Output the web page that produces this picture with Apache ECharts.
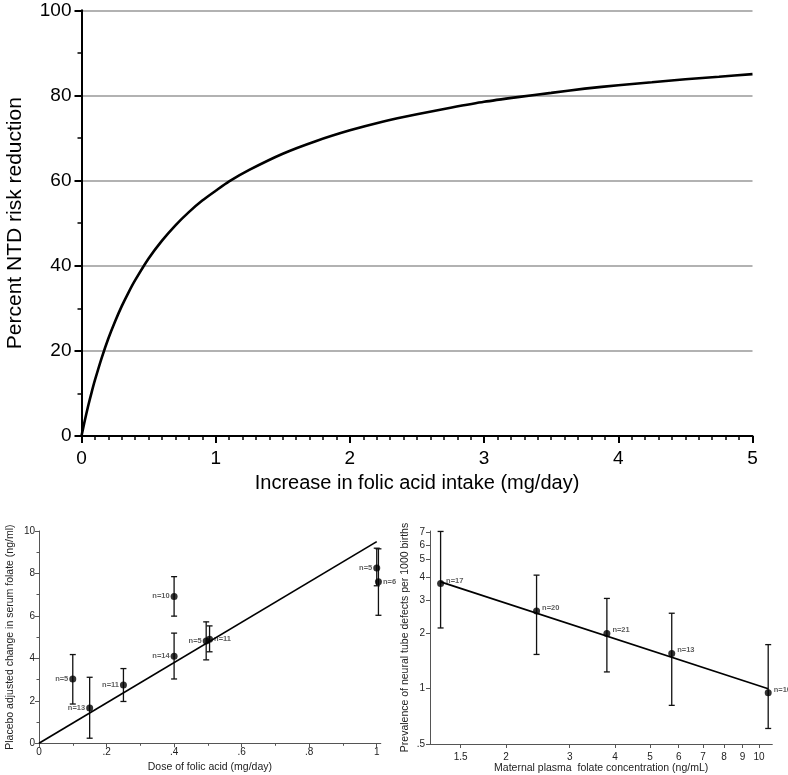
<!DOCTYPE html>
<html>
<head>
<meta charset="utf-8">
<script src="https://cdn.jsdelivr.net/npm/echarts@6/dist/echarts.min.js"></script>
<style>
  html, body { margin: 0; padding: 0; background: #fff; }
  #chart { width: 788px; height: 775px; }
</style>
</head>
<body>
<div id="chart"></div>
<script>
// top panel: risk reduction curve
var intakeX = [0, 0.01, 0.025, 0.05, 0.075, 0.1, 0.15, 0.2, 0.25, 0.3, 0.35, 0.4, 0.5, 0.6, 0.7, 0.8, 0.9, 1.0,
  1.1, 1.25, 1.5, 1.75, 2.0, 2.25, 2.5, 2.75, 3.0, 3.25, 3.5, 3.75, 4.0, 4.25, 4.5, 4.75, 5.0];
var riskReduction = [0, 1.5, 3.7, 7.1, 10.2, 13.1, 18.3, 22.9, 26.9, 30.5, 33.7, 36.6, 41.7, 45.9, 49.5, 52.6, 55.3, 57.6,
  59.8, 62.5, 66.3, 69.3, 71.8, 73.9, 75.6, 77.1, 78.5, 79.6, 80.6, 81.6, 82.4, 83.1, 83.8, 84.4, 85.0];

// bottom left: dose vs serum folate change
var doseX = [0.1, 0.15, 0.25, 0.4, 0.4, 0.495, 0.505, 1.0, 1.005];
var folateChange = [3.03, 1.66, 2.75, 4.1, 6.92, 4.82, 4.9, 8.26, 7.61];
var folateLow = [1.85, 0.24, 1.97, 3.03, 5.99, 3.93, 4.31, 7.42, 6.03];
var folateHigh = [4.18, 3.11, 3.52, 5.19, 7.85, 5.72, 5.53, 9.19, 9.16];
var doseN = ['n=5', 'n=13', 'n=11', 'n=14', 'n=10', 'n=5', 'n=11', 'n=5', 'n=6'];
var doseLabelSide = ['left', 'left', 'left', 'left', 'left', 'left', 'right', 'left', 'right'];
var doseFitX = [0, 1];
var doseFitY = [0, 9.5];
var doseTicks = [0, 0.2, 0.4, 0.6, 0.8, 1];

// bottom right: plasma folate vs NTD prevalence (log-log)
var plasmaX = [1.32, 2.43, 3.80, 5.74, 10.6];
var prevalence = [3.71, 2.63, 1.99, 1.55, 0.947];
var prevLow = [2.13, 1.53, 1.23, 0.81, 0.607];
var prevHigh = [7.11, 4.12, 3.08, 2.56, 1.73];
var plasmaN = ['n=17', 'n=20', 'n=21', 'n=13', 'n=10'];
var plasmaFitX = [1.32, 10.6];
var plasmaFitY = [3.79, 0.997];
var plasmaTicks = [1.5, 2, 3, 4, 5, 6, 7, 8, 9, 10];
var prevTicks = [0.5, 1, 2, 3, 4, 5, 6, 7];

var FONT = "'Liberation Sans', Arial, sans-serif";

function pairs(xs, ys) {
  return xs.map(function (x, i) { return [x, ys[i]]; });
}

function errorBar(params, api) {
  var x = api.value(0);
  var lo = api.coord([x, api.value(1)]);
  var hi = api.coord([x, api.value(2)]);
  var cap = 3;
  var st = { stroke: '#111', lineWidth: 1.3 };
  return {
    type: 'group',
    children: [
      { type: 'line', shape: { x1: lo[0], y1: lo[1], x2: hi[0], y2: hi[1] }, style: st },
      { type: 'line', shape: { x1: lo[0] - cap, y1: lo[1], x2: lo[0] + cap, y2: lo[1] }, style: st },
      { type: 'line', shape: { x1: hi[0] - cap, y1: hi[1], x2: hi[0] + cap, y2: hi[1] }, style: st }
    ]
  };
}

function smallAxis(extra) {
  var ax = {
    axisLine: { onZero: false, lineStyle: { color: '#555', width: 1 } },
    axisTick: { length: 4, lineStyle: { color: '#555' } },
    splitLine: { show: false },
    axisLabel: { fontFamily: FONT, fontSize: 10, color: '#222' },
    nameLocation: 'middle',
    nameTextStyle: { fontFamily: FONT, fontSize: 10.5, color: '#222' }
  };
  for (var k in extra) {
    if (typeof extra[k] === 'object' && ax[k] && !Array.isArray(extra[k])) {
      ax[k] = Object.assign({}, ax[k], extra[k]);
    } else {
      ax[k] = extra[k];
    }
  }
  return ax;
}

var chart = echarts.init(document.getElementById('chart'), null, { renderer: 'canvas' });

var option = {
  animation: false,
  backgroundColor: '#fff',
  grid: [
    { left: 81.5, top: 10.3, width: 671, height: 425.7, containLabel: false, outerBoundsMode: 'none' },
    { left: 39, top: 531, width: 341.8, height: 212.3, containLabel: false, outerBoundsMode: 'none' },
    { left: 430, top: 531, width: 342.3, height: 213, containLabel: false, outerBoundsMode: 'none' }
  ],
  xAxis: [
    {
      gridIndex: 0, type: 'value', min: 0, max: 5, interval: 1,
      axisLine: { lineStyle: { color: '#000', width: 2 } },
      axisTick: { length: 7, lineStyle: { color: '#000', width: 2 } },
      minorTick: { show: true, splitNumber: 10, length: 4, lineStyle: { color: '#000', width: 1.5 } },
      splitLine: { show: false },
      axisLabel: { fontFamily: FONT, fontSize: 19, color: '#000', margin: 13 },
      name: 'Increase in folic acid intake (mg/day)', nameLocation: 'middle', nameGap: 37,
      nameTextStyle: { fontFamily: FONT, fontSize: 20, color: '#000' }
    },
    smallAxis({
      gridIndex: 1, type: 'value', min: 0, max: 1.012, interval: 0.2,
      axisTick: { customValues: doseTicks },
      minorTick: { show: true, splitNumber: 2, length: 2.5, lineStyle: { color: '#555' } },
      axisLabel: {
        customValues: doseTicks, margin: 4,
        formatter: function (v) { return (v === 0 || v === 1) ? String(v) : String(v).replace(/^0/, ''); }
      },
      name: 'Dose of folic acid (mg/day)', nameGap: 18
    }),
    smallAxis({
      gridIndex: 2, type: 'log', logBase: 10, min: 1.234, max: 10.88,
      axisTick: { customValues: plasmaTicks },
      axisLabel: { customValues: plasmaTicks, margin: 8 },
      name: 'Maternal plasma  folate concentration (ng/mL)', nameGap: 19
    })
  ],
  yAxis: [
    {
      gridIndex: 0, type: 'value', min: 0, max: 100, interval: 20,
      axisLine: { show: true, lineStyle: { color: '#000', width: 2 } },
      axisTick: { show: true, length: 7, lineStyle: { color: '#000', width: 2 } },
      minorTick: { show: true, splitNumber: 2, length: 4, lineStyle: { color: '#000', width: 1.5 } },
      splitLine: { show: true, lineStyle: { color: '#999', width: 1.5 } },
      axisLabel: { fontFamily: FONT, fontSize: 19, color: '#000', margin: 10 },
      name: 'Percent NTD risk reduction', nameLocation: 'middle', nameGap: 56,
      nameTextStyle: { fontFamily: FONT, fontSize: 21, color: '#000' }
    },
    smallAxis({
      gridIndex: 1, type: 'value', min: 0, max: 10, interval: 2,
      axisLine: { show: true },
      axisTick: { show: true },
      minorTick: { show: true, splitNumber: 2, length: 2.5, lineStyle: { color: '#555' } },
      axisLabel: { margin: 4 },
      name: 'Placebo adjusted change in serum folate (ng/ml)', nameGap: 23
    }),
    smallAxis({
      gridIndex: 2, type: 'log', logBase: 10, min: 0.5, max: 7.15,
      axisLine: { show: true },
      axisTick: { show: true, customValues: prevTicks },
      axisLabel: {
        customValues: prevTicks, margin: 5,
        formatter: function (v) { return v === 0.5 ? '.5' : String(v); }
      },
      name: 'Prevalence of neural tube defects per 1000 births', nameGap: 19
    })
  ],
  series: [
    {
      type: 'line', xAxisIndex: 0, yAxisIndex: 0,
      data: pairs(intakeX, riskReduction),
      smooth: 0.25, showSymbol: false,
      lineStyle: { color: '#000', width: 2.6 }
    },
    {
      type: 'custom', xAxisIndex: 1, yAxisIndex: 1, renderItem: errorBar,
      encode: { x: 0, y: [1, 2] }, clip: false,
      data: doseX.map(function (x, i) { return [x, folateLow[i], folateHigh[i]]; })
    },
    {
      type: 'line', xAxisIndex: 1, yAxisIndex: 1,
      data: pairs(doseFitX, doseFitY), showSymbol: false,
      lineStyle: { color: '#000', width: 1.7 }
    },
    {
      type: 'scatter', xAxisIndex: 1, yAxisIndex: 1, clip: false,
      symbolSize: 7, itemStyle: { color: '#000' },
      data: doseX.map(function (x, i) {
        return { value: [x, folateChange[i]], label: { position: doseLabelSide[i] } };
      }),
      label: {
        show: true, distance: 1, fontFamily: FONT, fontSize: 7.5, fontWeight: 'bold', color: '#333',
        formatter: function (p) { return doseN[p.dataIndex]; }
      }
    },
    {
      type: 'custom', xAxisIndex: 2, yAxisIndex: 2, renderItem: errorBar,
      encode: { x: 0, y: [1, 2] }, clip: false,
      data: plasmaX.map(function (x, i) { return [x, prevLow[i], prevHigh[i]]; })
    },
    {
      type: 'line', xAxisIndex: 2, yAxisIndex: 2,
      data: pairs(plasmaFitX, plasmaFitY), showSymbol: false,
      lineStyle: { color: '#000', width: 1.7 }
    },
    {
      type: 'scatter', xAxisIndex: 2, yAxisIndex: 2, clip: false,
      symbolSize: 7, itemStyle: { color: '#000' },
      data: pairs(plasmaX, prevalence),
      label: {
        show: true, position: 'right', distance: 2, offset: [0, -3],
        fontFamily: FONT, fontSize: 7.5, fontWeight: 'bold', color: '#333',
        formatter: function (p) { return plasmaN[p.dataIndex]; }
      }
    }
  ]
};

chart.setOption(option);
</script>
</body>
</html>
